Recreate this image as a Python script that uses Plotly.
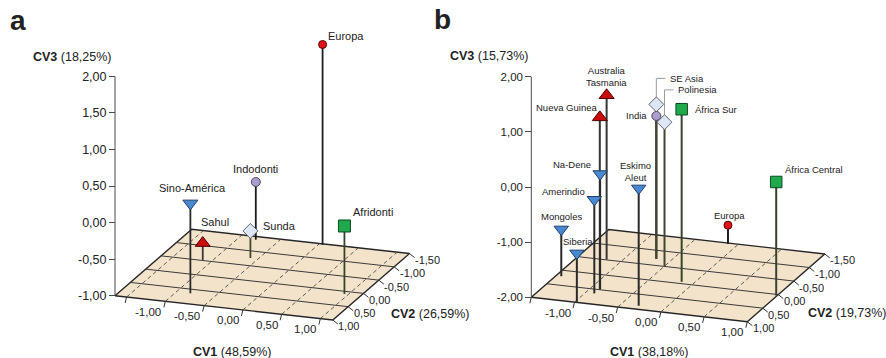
import plotly.graph_objects as go

W, H = 886, 358
FONT = "Liberation Sans, Arial, Helvetica, sans-serif"
INK = "#222222"

# ---------------- data ----------------
# Panel a: dental groups (canonical variates 1-3)
a_names = ["Europa", "Indodonti", "Sino-América", "Sahul", "Sunda", "Afridonti"]
a_cv1 = [0.05, -0.78, -0.82, -1.12, -0.60, 0.95]
a_cv2 = [-1.47, -1.39, 0.64, -0.52, -0.76, 0.09]
a_cv3 = [1.74, -0.21, 0.23, -0.77, -0.63, -0.07]
a_kind = ["europe", "india", "asia_americas", "sahul", "se_asia", "africa"]
a_pct = ["48,59%", "26,59%", "18,25%"]

# Panel b: regional samples
b_names = ["Australia<br>Tasmania", "Nueva Guinea", "Na-Dene", "Amerindio", "Mongoles",
           "Siberia", "Eskimo<br>Aleut", "India", "SE Asia", "Polinesia", "África Sur",
           "Europa", "África Central"]
b_cv1 = [-1.17, -0.89, -0.89, -0.90, -1.44, -0.98, -0.30, -0.67, -0.67, -0.50, -0.14, -0.11, 0.99]
b_cv2 = [-0.51, 0.49, 0.48, 0.64, 0.20, 0.98, 0.88, -0.72, -0.72, -0.51, -0.06, -1.47, 0.04]
b_cv3 = [0.98, 1.12, 0.09, -0.30, -1.15, -1.12, 0.13, 0.59, 0.80, 0.61, 1.13, -1.66, 0.06]
b_kind = ["sahul", "sahul", "asia_americas", "asia_americas", "asia_americas",
          "asia_americas", "asia_americas", "india", "se_asia", "se_asia", "africa",
          "europe", "africa"]
b_pct = ["38,18%", "19,73%", "15,73%"]

# axis ticks
a_cv3_ticks = [-1.0, -0.5, 0.0, 0.5, 1.0, 1.5, 2.0]
b_cv3_ticks = [-2.0, -1.0, 0.0, 1.0, 2.0]
cv1_ticks = [-1.5, -1.0, -0.5, 0.0, 0.5, 1.0]
cv1_labelled = [-1.0, -0.5, 0.0, 0.5, 1.0]
cv2_ticks = [-1.5, -1.0, -0.5, 0.0, 0.5, 1.0]

# ---------------- styles ----------------
KIND_STYLE = {
    "europe": dict(symbol="circle", color="#e3121b", line="#5a0000", stem="#1e1e1e"),
    "india": dict(symbol="circle", color="#aa9fcc", line="#4d4766", stem="#1a1a1a"),
    "asia_americas": dict(symbol="triangle-down", color="#4a89d2", line="#1f3f66", stem="#2a2a2a"),
    "sahul": dict(symbol="triangle-up", color="#cc0b0b", line="#4a0000", stem="#363636"),
    "se_asia": dict(symbol="diamond", color="#dde6f5", line="#5f6670", stem="#41462f"),
    "africa": dict(symbol="square", color="#1fa84c", line="#0d4a20", stem="#39422c"),
}
MARKER_SIZE = {
    "a": {"europe": 8, "india": 9, "asia_americas": 13, "sahul": 13, "se_asia": 11.5, "africa": 12},
    "b": {"europe": 8, "india": 9, "asia_americas": 12.5, "sahul": 13, "se_asia": 11.5, "africa": 11.5},
}

# label placement: (xanchor, dx px, dy px) relative to the marker, screen y downward
LABEL_POS = {
    "a": {
        "Europa": ("left", 3.5, -8.6), "Indodonti": ("center", 0, -12.5),
        "Sino-América": ("center", 2, -15), "Sahul": ("left", -3.3, -20.7),
        "Sunda": ("left", 11, -5), "Afridonti": ("left", 6.4, -14),
    },
    "b": {
        "Australia<br>Tasmania": ("center", 0, -18.5), "Nueva Guinea": ("right", -1, -9.6),
        "Na-Dene": ("right", -7.6, -9), "Amerindio": ("right", -7.3, -8.3),
        "Mongoles": ("center", 0.3, -12.6), "Siberia": ("center", 0.8, -12.3),
        "Eskimo<br>Aleut": ("center", -3, -16.7), "India": ("right", -7.7, 0),
        "SE Asia": ("left", 11.3, -26), "Polinesia": ("left", 11.7, -32.3),
        "África Sur": ("left", 11.6, 0), "Europa": ("center", 1.5, -10),
        "África Central": ("left", 6.6, -12.7),
    },
}
# labels connected to their marker by a thin leader (elbow height in px)
LEADERS = {"b": {"SE Asia": -26, "Polinesia": -32.3}}

# oblique projection of each panel: floor extents, screen corner of (CV1 min, CV2 max, floor)
# and the screen displacement (px) of one unit along each variate
PANELS = {
    "a": dict(cv1_lim=(-1.65, 1.16), cv2_lim=(-1.5, 1.0), floor=-1.0, top=2.0,
              corner=(115.0, 295.7), px_cv1=(77.5, 8.63), px_back=(30.7, -26.56), px_cv3=73.1,
              domain=(0.0, 0.5), xref="x", yref="y", label_size=11, cv3_font=12.5,
              stem_w=1.8),
    "b": dict(cv1_lim=(-1.5, 1.0), cv2_lim=(-1.5, 1.0), floor=-2.0, top=2.0,
              corner=(531.3, 297.3), px_cv1=(86.4, 9.76), px_back=(31.0, -27.1), px_cv3=55.15,
              domain=(0.5, 1.0), xref="x2", yref="y2", label_size=9.5, cv3_font=11.5,
              stem_w=2.0),
}


def fmt(v):
    return f"{v:.2f}".replace(".", ",")


def projector(p):
    c1min, _ = p["cv1_lim"]
    _, c2max = p["cv2_lim"]
    sx = p["px_cv1"][0]

    def proj(c1, c2, c3):
        back = c2max - c2
        x = c1 + back * p["px_back"][0] / sx
        y = c3 - (c1 - c1min) * p["px_cv1"][1] / p["px_cv3"] - back * p["px_back"][1] / p["px_cv3"]
        return x, y

    def shift(x, y, dx, dy):
        return x + dx / sx, y - dy / p["px_cv3"]

    return proj, shift


fig = go.Figure()
annotations = []
layout_axes = {}


def add_line(xs, ys, p, color, width, dash="solid"):
    fig.add_trace(go.Scatter(x=xs, y=ys, mode="lines", xaxis=p["xref"], yaxis=p["yref"],
                             line=dict(color=color, width=width, dash=dash),
                             hoverinfo="skip", showlegend=False))


def build_panel(key, names, c1s, c2s, c3s, kinds, pct):
    p = PANELS[key]
    proj, shift = projector(p)
    c1min, c1max = p["cv1_lim"]
    c2min, c2max = p["cv2_lim"]
    fl = p["floor"]

    # floor
    corners = [proj(c1min, c2max, fl), proj(c1max, c2max, fl),
               proj(c1max, c2min, fl), proj(c1min, c2min, fl), proj(c1min, c2max, fl)]
    fig.add_trace(go.Scatter(x=[c[0] for c in corners], y=[c[1] for c in corners],
                             mode="lines", fill="toself", fillcolor="#f4e3cb",
                             line=dict(color="#262626", width=1.4),
                             xaxis=p["xref"], yaxis=p["yref"], hoverinfo="skip",
                             showlegend=False))
    # solid grid along CV1 at CV2 ticks
    for v in cv2_ticks:
        if c2min < v < c2max:
            s, e = proj(c1min, v, fl), proj(c1max, v, fl)
            add_line([s[0], e[0]], [s[1], e[1]], p, "#3a3a3a", 1)
    # dashed grid along CV2 at CV1 ticks
    for v in cv1_ticks:
        if c1min < v < c1max:
            s, e = proj(v, c2max, fl), proj(v, c2min, fl)
            add_line([s[0], e[0]], [s[1], e[1]], p, "#4a4a4a", 0.9, dash="4px,3px")

    # CV1 ticks and labels along the front edge
    for v in cv1_ticks:
        x0, y0 = proj(v, c2max, fl)
        x1, y1 = shift(x0, y0, -1.5, 6)
        add_line([x0, x1], [y0, y1], p, "#333333", 1)
    for v in cv1_labelled:
        x0, y0 = proj(v, c2max, fl)
        annotations.append(dict(x=x0, y=y0, xref=p["xref"], yref=p["yref"], text=fmt(v),
                                showarrow=False, xanchor="right", yanchor="middle",
                                xshift=-2, yshift=-10.5,
                                font=dict(size=11.5, color=INK, family=FONT)))
    # CV2 ticks and labels along the right edge
    for v in cv2_ticks:
        x0, y0 = proj(c1max, v, fl)
        x1, y1 = shift(x0, y0, 5, 4)
        add_line([x0, x1], [y0, y1], p, "#333333", 1)
        annotations.append(dict(x=x0, y=y0, xref=p["xref"], yref=p["yref"], text=fmt(v),
                                showarrow=False, xanchor="left", yanchor="middle",
                                xshift=3.5, yshift=-6.5,
                                font=dict(size=11, color=INK, family=FONT)))
    # CV3 axis line at the front-left corner
    add_line([c1min, c1min], [fl, p["top"]], p, "#4a4a4a", 1)

    # stems from the floor
    for c1, c2, c3, k in zip(c1s, c2s, c3s, kinds):
        b0 = proj(c1, c2, fl)
        t0 = proj(c1, c2, c3)
        add_line([b0[0], t0[0]], [b0[1], t0[1]], p, KIND_STYLE[k]["stem"], p["stem_w"])

    # leaders for offset labels
    for name, elbow in LEADERS.get(key, {}).items():
        i = names.index(name)
        mx, my = proj(c1s[i], c2s[i], c3s[i])
        pts = [shift(mx, my, 0, -7), shift(mx, my, 0, elbow), shift(mx, my, 9, elbow)]
        add_line([q[0] for q in pts], [q[1] for q in pts], p, "#9c9c9c", 1)

    # markers
    for k in KIND_STYLE:
        idx = [i for i, kk in enumerate(kinds) if kk == k]
        if not idx:
            continue
        pts = [proj(c1s[i], c2s[i], c3s[i]) for i in idx]
        st = KIND_STYLE[k]
        fig.add_trace(go.Scatter(x=[q[0] for q in pts], y=[q[1] for q in pts], mode="markers",
                                 xaxis=p["xref"], yaxis=p["yref"], showlegend=False,
                                 text=[names[i] for i in idx], hoverinfo="text",
                                 marker=dict(symbol=st["symbol"], color=st["color"],
                                             size=MARKER_SIZE[key][k],
                                             line=dict(color=st["line"], width=1))))
    # point labels
    for name, c1, c2, c3 in zip(names, c1s, c2s, c3s):
        anc, dx, dy = LABEL_POS[key][name]
        mx, my = proj(c1, c2, c3)
        annotations.append(dict(x=mx, y=my, xref=p["xref"], yref=p["yref"], text=name,
                                showarrow=False, xanchor=anc, yanchor="middle", align="center",
                                xshift=dx, yshift=-dy,
                                font=dict(size=p["label_size"], color=INK, family=FONT)))

    # axes: x is a hidden helper, y carries the CV3 scale
    cx, cy = p["corner"]
    sx = p["px_cv1"][0]
    d0, d1 = p["domain"]
    x_lo = c1min - (cx - d0 * W) / sx
    x_hi = x_lo + (d1 - d0) * W / sx
    y_lo = fl - (H - cy) / p["px_cv3"]
    y_hi = y_lo + H / p["px_cv3"]
    xname = "xaxis" if p["xref"] == "x" else "xaxis2"
    yname = "yaxis" if p["yref"] == "y" else "yaxis2"
    ticks = a_cv3_ticks if key == "a" else b_cv3_ticks
    layout_axes[xname] = dict(domain=[d0, d1], range=[x_lo, x_hi], visible=False,
                              anchor=p["yref"], fixedrange=True)
    layout_axes[yname] = dict(domain=[0, 1], range=[y_lo, y_hi], anchor="free",
                              position=cx / W, tickvals=ticks, ticktext=[fmt(v) for v in ticks],
                              ticks="outside", ticklen=6, tickwidth=1, tickcolor="#4a4a4a",
                              showline=False, showgrid=False, zeroline=False,
                              automargin=False, fixedrange=True,
                              tickfont=dict(size=p["cv3_font"], color=INK, family=FONT))


build_panel("a", a_names, a_cv1, a_cv2, a_cv3, a_kind, a_pct)
build_panel("b", b_names, b_cv1, b_cv2, b_cv3, b_kind, b_pct)


def paper_text(text, px, py, anchor="center", size=12.5):
    annotations.append(dict(x=px / W, y=1 - py / H, xref="paper", yref="paper", text=text,
                            showarrow=False, xanchor=anchor, yanchor="middle",
                            font=dict(size=size, color=INK, family=FONT)))


# axis titles and panel letters
paper_text(f"<b>CV3</b> ({a_pct[2]})", 72, 56.7)
paper_text(f"<b>CV1</b> ({a_pct[0]})", 233, 352)
paper_text(f"<b>CV2</b> ({a_pct[1]})", 389, 314, anchor="left")
paper_text(f"<b>CV3</b> ({b_pct[2]})", 489, 56)
paper_text(f"<b>CV1</b> ({b_pct[0]})", 649, 351.5)
paper_text(f"<b>CV2</b> ({b_pct[1]})", 805.5, 313, anchor="left")
paper_text("<b>a</b>", 8, 20, anchor="left", size=28)
paper_text("<b>b</b>", 432, 19, anchor="left", size=28)

fig.update_layout(width=W, height=H, autosize=False,
                  margin=dict(l=0, r=0, t=0, b=0, pad=0),
                  paper_bgcolor="white", plot_bgcolor="rgba(0,0,0,0)",
                  showlegend=False, annotations=annotations,
                  font=dict(family=FONT, color=INK), **layout_axes)

fig.write_html("out.html", config={"displayModeBar": False})
